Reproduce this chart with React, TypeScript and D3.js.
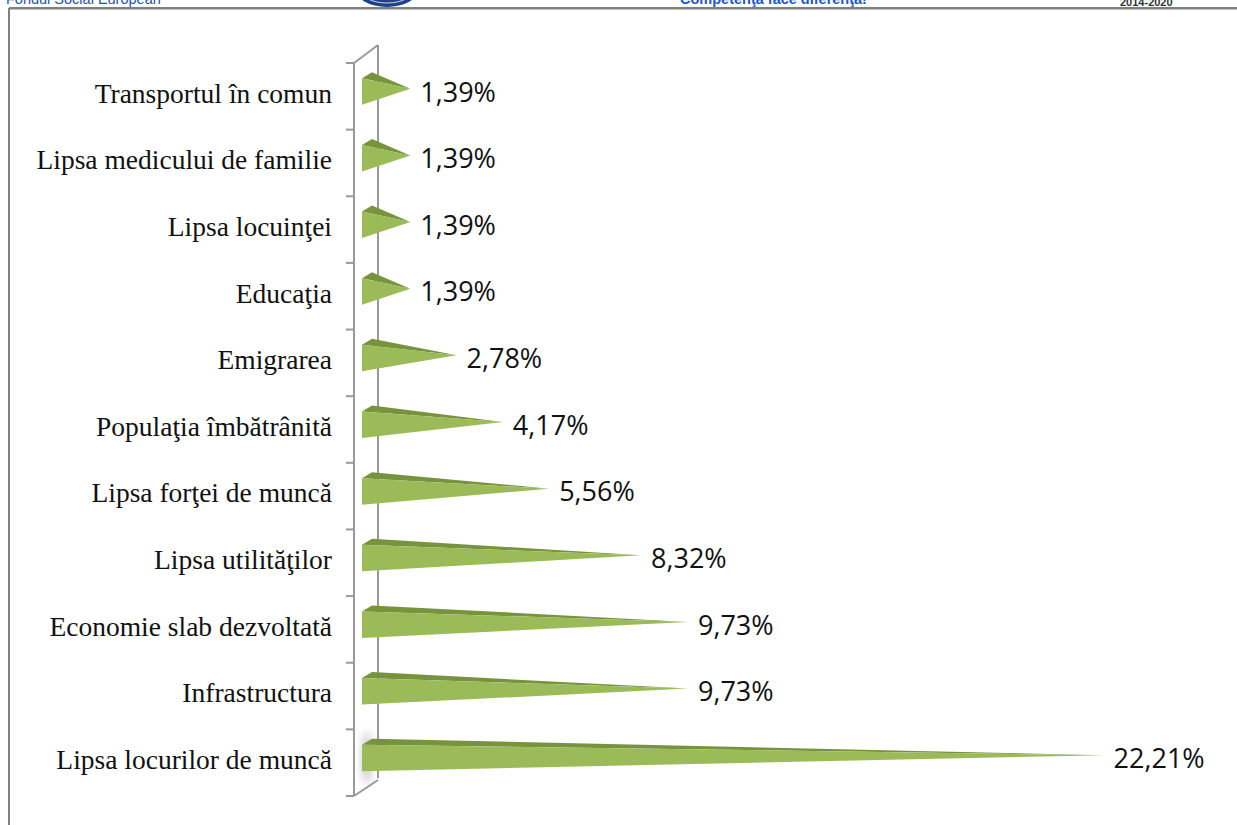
import React from "react";
import * as d3 from "d3";

const categories = [
  "Transportul în comun",
  "Lipsa medicului de familie",
  "Lipsa locuinţei",
  "Educaţia",
  "Emigrarea",
  "Populaţia îmbătrânită",
  "Lipsa forţei de muncă",
  "Lipsa utilităţilor",
  "Economie slab dezvoltată",
  "Infrastructura",
  "Lipsa locurilor de muncă",
];
const values = [1.39, 1.39, 1.39, 1.39, 2.78, 4.17, 5.56, 8.32, 9.73, 9.73, 22.21];
const valueLabels = ["1,39%", "1,39%", "1,39%", "1,39%", "2,78%", "4,17%", "5,56%", "8,32%", "9,73%", "9,73%", "22,21%"];

const W = 1237;
const H = 825;

export default function App() {
  const y = d3.scaleBand<string>().domain(categories).range([63, 796]).padding(0);
  const x = d3.scaleLinear().domain([0, 25]).range([364, 364 + 25 * 33.3]);
  const frontX = 354;
  const dx = 24;
  const dy = -18;
  const ticks = d3.range(categories.length + 1).map((i) => 63 + i * y.step());
  const x0 = 362;

  return (
    <svg
      width={W}
      height={H}
      style={{ position: "absolute", left: 0, top: 0, background: "#fff" }}
    >
      <defs>
        <filter id="blur" x="-50%" y="-50%" width="200%" height="200%">
          <feGaussianBlur stdDeviation="4" />
        </filter>
      </defs>
      {/* header */}
      <text x={6} y={4} fontFamily="Liberation Sans, Arial" fontSize={14.5} fill="#2255aa">
        Fondul Social European
      </text>
      <ellipse cx={387} cy={-12} rx={32} ry={19} fill="#1d3f8e" />
      <ellipse cx={387} cy={-12} rx={28} ry={15} fill="none" stroke="#ffffff" strokeWidth={0.8} />
      <text x={680} y={4} fontFamily="Liberation Sans, Arial" fontWeight="bold" fontSize={14.5} fill="#2255cc">
        Competenţa face diferenţa!
      </text>
      <text x={1120} y={6} fontFamily="Liberation Sans, Arial" fontWeight="bold" fontSize={11} fill="#333">
        2014-2020
      </text>
      <line x1={9} y1={8} x2={W} y2={8} stroke="#808080" strokeWidth={2} />
      <line x1={9} y1={9.5} x2={W} y2={9.5} stroke="#c0c0c0" strokeWidth={1} />
      <line x1={9} y1={8} x2={9} y2={H} stroke="#808080" strokeWidth={2} />

      {/* 3D axis wall */}
      <ellipse cx={367} cy={758} rx={5} ry={26} fill="#888" opacity={0.45} filter="url(#blur)" />
      <line x1={frontX} y1={ticks[0]} x2={frontX} y2={ticks[ticks.length - 1]} stroke="#999" strokeWidth={2} />
      <line x1={frontX + dx} y1={ticks[0] + dy} x2={frontX + dx} y2={ticks[ticks.length - 1] + dy} stroke="#999" strokeWidth={2} />
      <line x1={frontX} y1={ticks[0]} x2={frontX + dx} y2={ticks[0] + dy} stroke="#999" strokeWidth={2} />
      <line x1={frontX} y1={ticks[ticks.length - 1]} x2={frontX + dx} y2={ticks[ticks.length - 1] + dy + 2} stroke="#999" strokeWidth={2} />
      {ticks.map((t, i) => (
        <line key={i} x1={frontX - 8} y1={t} x2={frontX} y2={t} stroke="#999" strokeWidth={2} />
      ))}

      {/* bars */}
      {categories.map((c, i) => {
        const cy = (y(c) as number) + y.bandwidth() / 2;
        const top = cy - 18;
        const bot = cy + 8.5;
        const tipX = x(values[i]);
        const tipY = cy - 7.5;
        const topFace = `M${x0},${top} L${x0 + 10},${top - 6} L${tipX},${tipY} Z`;
        const front = `M${x0},${top} L${x0},${bot} L${tipX},${tipY} Z`;
        return (
          <g key={c}>
            <path d={topFace} fill="#77933c" />
            <path d={front} fill="#9bbb59" />
            <text
              x={tipX + 10}
              y={cy - 2}
              dominantBaseline="middle"
              fontFamily="Open Sans, Noto Sans, sans-serif"
              fontSize={27}
              fill="#111"
            >
              {valueLabels[i]}
            </text>
            <text
              x={332}
              y={cy}
              textAnchor="end"
              dominantBaseline="middle"
              fontFamily="Liberation Serif, Times New Roman, serif"
              fontSize={27.5}
              fill="#111"
            >
              {c}
            </text>
          </g>
        );
      })}
    </svg>
  );
}
